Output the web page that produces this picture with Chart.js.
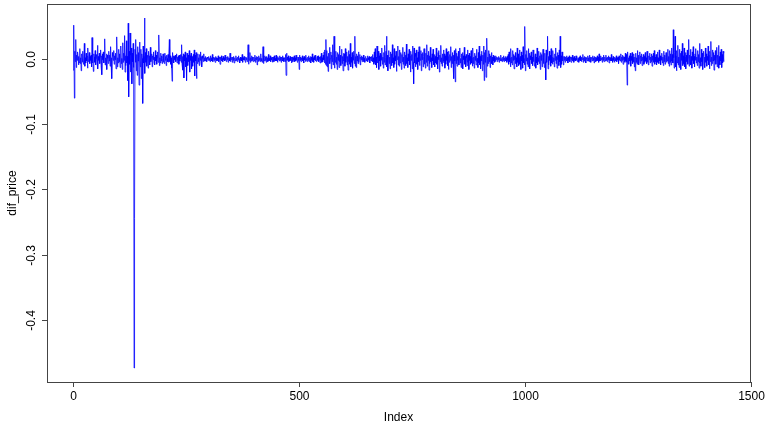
<!DOCTYPE html>
<html>
<head>
<meta charset="utf-8">
<script src="https://cdn.jsdelivr.net/npm/chart.js@4/dist/chart.umd.min.js"></script>
<style>
  html, body { margin: 0; padding: 0; background: #fff; }
  #wrap { width: 765px; height: 427px; position: relative; }
</style>
</head>
<body>
<div id="wrap"><canvas id="chartDif"></canvas></div>
<script>
// dif_price series (one value per index, starting at 1)
const difPrice = [
  -0.017, 0.018, 0.052, -0.06, 0.012, -0.004, 0.03, -0.013, 0.006, -0.002, 0.011, 0.004, -0.009, 0.003, -0.006, 0.016, -0.007, 0.002, -0.018, 0.008,
  0.003, -0.005, 0.012, -0.008, 0.001, 0.024, -0.011, 0.002, -0.006, 0.009, -0.003, 0.005, -0.014, 0.017, -0.004, 0.001, 0.01, -0.007, 0.004, -0.002,
  0.006, -0.012, 0.033, -0.006, 0.002, -0.019, 0.008, 0.003, -0.005, 0.013, -0.009, 0.001, 0.007, -0.004, 0.021, -0.015, 0.004, -0.002, 0.009, -0.007,
  0.003, 0.014, -0.01, 0.005, -0.024, 0.008, -0.001, 0.011, -0.006, 0.004, 0.031, -0.009, 0.002, -0.004, 0.008, -0.016, 0.006, 0.001, -0.007, 0.012,
  -0.003, 0.006, -0.011, 0.019, -0.005, 0.002, -0.03, 0.01, 0.004, -0.002, 0.013, -0.008, 0.005, -0.001, 0.009, -0.015, 0.007, 0.034, -0.012, 0.002,
  -0.006, 0.015, -0.004, 0.008, -0.013, 0.003, 0.02, -0.007, 0.001, -0.016, 0.025, -0.005, 0.009, -0.002, 0.036, -0.02, 0.005, -0.01, 0.028, -0.006,
  0.004, -0.033, 0.055, -0.058, 0.012, -0.008, 0.04, -0.02, 0.006, 0.017, -0.038, 0.009, -0.004, 0.024, -0.013, -0.474, -0.245, 0.015, -0.005, 0.03,
  -0.018, 0.007, -0.025, 0.019, -0.003, 0.01, -0.04, 0.026, 0.005, -0.012, 0.015, -0.03, 0.008, 0.001, -0.068, 0.02, -0.006, 0.004, 0.063, -0.022,
  0.01, -0.005, 0.016, -0.011, 0.003, 0.006, -0.014, 0.012, -0.002, 0.005, -0.009, 0.018, -0.004, 0.002, 0.008, -0.012, 0.005, -0.001, 0.011, -0.006,
  0.003, -0.009, 0.013, -0.003, 0.006, -0.008, 0.002, 0.011, -0.005, 0.004, 0.037, -0.01, 0.002, -0.006, 0.009, -0.003, 0.005, -0.007, 0.001, 0.008,
  -0.005, 0.003, -0.007, 0.009, -0.002, 0.004, -0.01, 0.006, 0.001, -0.004, 0.007, -0.005, 0.002, 0.03, -0.004, 0.005, -0.008, 0.002, -0.014, -0.034,
  0.01, -0.003, 0.005, -0.006, 0.004, -0.001, 0.006, -0.004, 0.002, 0.008, -0.006, 0.003, -0.002, 0.005, -0.008, 0.006, -0.003, 0.001, 0.007, -0.005,
  0.022, -0.008, 0.004, -0.017, 0.008, -0.029, 0.006, -0.003, 0.011, -0.012, 0.002, -0.033, 0.009, 0.002, -0.01, 0.006, -0.004, 0.013, -0.02, 0.005,
  -0.002, 0.009, -0.015, 0.004, 0.001, -0.011, 0.007, -0.005, 0.014, -0.026, 0.006, -0.003, 0.01, -0.03, 0.005, -0.007, 0.008, -0.004, 0.002, -0.01,
  0.007, -0.002, 0.011, -0.006, 0.004, -0.012, 0.005, 0.001, -0.004, 0.008, -0.003, 0.002, -0.003, 0.004, -0.001, 0.002, -0.004, 0.003, 0.001, -0.002,
  0.004, -0.002, 0.001, -0.004, 0.005, -0.001, 0.002, -0.003, 0.007, -0.004, 0.001, 0.003, -0.002, 0.002, -0.005, 0.004, -0.001, 0.002, -0.003, 0.001,
  -0.002, 0.005, -0.004, 0.001, 0.003, -0.008, 0.003, -0.001, 0.005, -0.003, 0.001, -0.004, 0.004, -0.001, 0.002, -0.003, 0.006, -0.002, 0.001, -0.004,
  0.003, -0.001, 0.004, -0.005, 0.002, 0.001, -0.003, 0.009, -0.004, 0.002, -0.001, 0.003, -0.005, 0.003, -0.002, 0.004, -0.006, 0.002, 0.001, -0.003,
  0.005, -0.002, 0.001, -0.004, 0.003, -0.001, 0.005, -0.003, 0.001, -0.006, 0.003, -0.002, 0.002, -0.003, 0.007, -0.005, 0.002, -0.001, 0.004, -0.002,
  0.003, -0.005, 0.003, -0.001, 0.002, -0.004, 0.005, 0.022, -0.008, 0.004, -0.002, 0.01, -0.005, 0.002, -0.003, 0.005, -0.002, 0.003, -0.004, 0.001,
  0.003, -0.003, 0.006, -0.005, 0.002, -0.001, 0.004, -0.009, 0.003, 0.001, -0.004, 0.005, -0.002, 0.002, -0.004, 0.008, -0.003, 0.001, -0.005, 0.003,
  0.019, -0.007, 0.002, -0.003, 0.005, -0.002, 0.003, -0.005, 0.004, -0.001, 0.002, -0.004, 0.007, -0.003, 0.001, -0.002, 0.005, -0.004, 0.002, -0.001,
  0.003, -0.005, 0.002, 0.003, -0.004, 0.005, -0.002, 0.001, -0.003, 0.006, -0.003, 0.002, -0.005, 0.004, -0.001, 0.002, -0.003, 0.005, -0.002, 0.003,
  -0.005, 0.003, -0.001, 0.005, -0.003, 0.002, -0.004, 0.002, 0.001, -0.004, 0.007, -0.025, 0.009, -0.002, 0.003, -0.002, 0.005, -0.004, 0.001, -0.003,
  0.004, -0.002, 0.003, -0.006, 0.002, 0.003, -0.004, 0.002, -0.001, 0.005, -0.004, 0.002, -0.003, 0.006, -0.002, 0.001, -0.005, 0.003, -0.002, 0.003,
  -0.016, 0.006, -0.002, 0.003, -0.004, 0.002, -0.001, 0.005, -0.003, 0.002, -0.006, 0.004, -0.001, 0.003, -0.004, 0.006, -0.002, 0.001, -0.004, 0.003,
  -0.002, 0.005, -0.004, 0.002, -0.001, 0.004, -0.006, 0.003, -0.002, 0.008, -0.004, 0.002, -0.005, 0.004, -0.001, 0.006, -0.003, 0.002, -0.004, 0.002,
  0.004, -0.002, 0.005, -0.004, 0.001, 0.003, -0.006, 0.004, -0.002, 0.009, -0.005, 0.002, -0.004, 0.006, -0.001, 0.011, -0.006, 0.014, -0.008, 0.03,
  -0.01, 0.013, -0.012, 0.004, -0.019, 0.009, -0.003, 0.018, -0.007, 0.001, 0.011, -0.015, 0.006, -0.004, 0.022, -0.009, 0.003, 0.035, -0.014, 0.007,
  -0.005, 0.012, -0.008, 0.003, -0.016, 0.01, -0.002, 0.007, -0.013, 0.02, -0.004, 0.006, -0.01, 0.002, 0.015, -0.007, 0.004, -0.018, 0.009, -0.003,
  0.008, -0.011, 0.016, -0.005, 0.002, 0.011, -0.009, 0.004, -0.017, 0.013, -0.004, 0.007, -0.008, 0.024, -0.012, 0.003, -0.005, 0.01, -0.014, 0.006,
  -0.002, 0.012, -0.007, 0.035, -0.011, 0.004, -0.013, 0.008, -0.003, 0.005, -0.007, 0.011, -0.005, 0.002, 0.007, -0.009, 0.003, -0.001, 0.005, -0.004,
  0.003, -0.002, 0.006, -0.004, 0.001, -0.005, 0.003, 0.004, -0.003, 0.001, -0.003, 0.005, -0.004, 0.002, -0.001, 0.004, -0.006, 0.003, 0.002, -0.003,
  0.004, -0.002, 0.007, -0.004, 0.002, -0.008, 0.011, -0.005, 0.016, -0.009, 0.003, -0.013, 0.02, -0.006, 0.002, 0.012, -0.016, 0.005, -0.003, 0.009,
  -0.011, 0.007, -0.002, 0.017, -0.008, 0.003, -0.014, 0.01, -0.005, 0.021, -0.009, 0.002, 0.012, 0.035, -0.012, 0.006, -0.018, 0.004, 0.013, -0.007,
  0.003, -0.015, 0.011, -0.004, 0.008, -0.01, 0.022, -0.006, 0.002, -0.013, 0.016, -0.008, 0.005, -0.003, 0.012, -0.019, 0.006, -0.001, 0.02, -0.009,
  0.004, -0.011, 0.014, -0.006, 0.001, 0.01, -0.016, 0.007, -0.004, 0.018, -0.008, 0.003, -0.014, 0.011, -0.005, 0.006, -0.01, 0.023, -0.007, 0.002,
  -0.013, 0.008, -0.003, 0.015, -0.009, 0.005, -0.02, 0.012, -0.002, 0.007, -0.015, 0.02, -0.005, -0.038, 0.017, -0.006, 0.009, -0.012, 0.004, 0.014,
  -0.008, 0.002, -0.016, 0.011, -0.004, 0.019, -0.01, 0.006, -0.002, 0.013, -0.018, 0.008, -0.001, 0.01, -0.012, 0.004, 0.016, -0.008, 0.003, -0.014,
  0.009, -0.005, 0.022, -0.011, 0.006, -0.002, 0.012, -0.017, 0.005, -0.007, 0.018, -0.004, 0.002, -0.013, 0.008, -0.003, 0.015, -0.009, 0.001, 0.007,
  -0.012, 0.004, -0.006, 0.017, -0.008, 0.003, -0.015, 0.01, -0.001, 0.013, -0.02, 0.006, -0.004, 0.021, -0.007, 0.002, -0.011, 0.008, -0.005, 0.014,
  -0.003, 0.008, -0.014, 0.005, -0.008, 0.016, -0.002, 0.011, -0.01, 0.004, -0.016, 0.012, -0.005, 0.007, -0.002, 0.019, -0.013, 0.004, -0.007, 0.01,
  -0.004, 0.006, -0.03, 0.013, -0.003, -0.035, 0.016, -0.007, 0.009, -0.011, 0.004, -0.002, 0.012, -0.009, 0.003, 0.017, -0.006, 0.001, -0.013, 0.008,
  -0.004, 0.01, -0.015, 0.005, -0.001, 0.018, -0.008, 0.004, -0.012, 0.007, 0.002, -0.01, 0.014, -0.005, 0.006, -0.016, 0.009, -0.002, 0.004, -0.008,
  0.013, -0.006, 0.002, -0.011, 0.017, -0.007, 0.003, -0.014, 0.009, -0.002, 0.005, -0.009, 0.015, -0.004, 0.001, -0.013, 0.01, -0.006, 0.02, -0.009,
  0.004, -0.015, 0.007, -0.003, 0.012, -0.018, 0.006, -0.008, 0.02, -0.033, 0.01, -0.005, 0.014, -0.028, 0.006, 0.032, -0.011, 0.003, -0.007, 0.013,
  -0.004, 0.008, -0.013, 0.005, -0.002, 0.01, -0.007, 0.003, -0.009, 0.006, -0.003, 0.004, -0.005, 0.002, -0.004, 0.005, -0.001, 0.003, -0.004, 0.002,
  -0.001, 0.004, -0.005, 0.002, 0.001, -0.003, 0.006, -0.003, 0.001, -0.004, 0.003, -0.002, 0.005, -0.004, 0.002, -0.001, 0.004, -0.003, 0.002, -0.005,
  0.004, -0.002, 0.007, -0.008, 0.011, -0.004, 0.002, -0.012, 0.016, -0.006, 0.003, -0.009, 0.013, -0.002, 0.007, -0.015, 0.005, -0.001, 0.01, -0.007,
  0.002, -0.012, 0.017, -0.005, 0.008, -0.01, 0.002, 0.014, -0.008, 0.004, -0.016, 0.011, -0.003, 0.006, -0.014, 0.019, -0.006, 0.001, -0.009, 0.05,
  -0.018, 0.007, -0.003, 0.013, -0.008, 0.002, -0.012, 0.016, -0.004, 0.009, -0.015, 0.005, -0.001, 0.011, -0.007, 0.003, -0.01, 0.014, -0.004, 0.006,
  -0.011, 0.004, 0.008, -0.014, 0.003, -0.006, 0.017, -0.009, 0.002, -0.004, 0.012, -0.007, 0.005, -0.016, 0.01, -0.002, 0.007, -0.012, 0.003, 0.015,
  -0.007, 0.002, -0.013, 0.009, -0.004, -0.032, 0.014, -0.005, 0.007, 0.035, -0.015, 0.004, -0.009, 0.012, -0.002, 0.006, -0.011, 0.016, -0.006, 0.003,
  -0.008, 0.013, -0.004, 0.002, -0.012, 0.008, -0.002, 0.017, -0.007, 0.004, -0.014, 0.01, -0.001, 0.006, -0.01, 0.014, -0.004, 0.035, -0.013, 0.005,
  -0.008, 0.011, -0.003, 0.006, -0.009, 0.004, -0.002, 0.004, -0.005, 0.003, -0.001, 0.005, -0.003, 0.002, -0.006, 0.003, -0.002, 0.005, -0.004, 0.002,
  0.003, -0.005, 0.003, -0.001, 0.006, -0.003, 0.002, -0.005, 0.004, -0.002, 0.001, -0.003, 0.005, -0.002, 0.003, -0.004, 0.002, 0.001, -0.005, 0.003,
  -0.002, 0.005, -0.003, 0.002, -0.004, 0.003, -0.001, 0.007, -0.005, 0.002, -0.003, 0.004, -0.002, 0.003, -0.006, 0.002, 0.001, -0.003, 0.005, -0.003,
  0.002, -0.004, 0.006, -0.002, 0.003, -0.005, 0.001, 0.003, -0.003, 0.005, -0.002, 0.002, -0.006, 0.004, -0.001, 0.003, -0.004, 0.002, -0.003, 0.005,
  -0.002, 0.003, -0.005, 0.008, -0.003, 0.002, -0.003, 0.005, -0.001, 0.002, -0.005, 0.003, -0.002, 0.006, -0.004, 0.001, 0.003, -0.003, 0.006, -0.002,
  0.002, -0.004, 0.003, -0.001, 0.005, -0.006, 0.003, -0.002, 0.002, -0.003, 0.007, -0.003, 0.001, -0.005, 0.004, -0.002, 0.002, -0.005, 0.003, 0.001,
  -0.003, 0.005, -0.004, 0.002, -0.001, 0.003, -0.007, 0.005, -0.002, 0.002, -0.003, 0.008, -0.005, 0.003, -0.002, 0.006, -0.008, 0.004, -0.001, 0.003,
  -0.005, 0.009, -0.003, 0.007, -0.005, -0.04, 0.011, -0.006, 0.002, -0.008, 0.005, -0.003, 0.009, -0.011, 0.004, -0.002, 0.01, -0.007, 0.003, -0.005,
  0.008, -0.012, 0.003, -0.018, 0.009, -0.005, 0.002, -0.008, 0.013, -0.004, 0.006, -0.009, 0.002, 0.011, -0.007, 0.005, -0.003, 0.008, -0.01, 0.003,
  -0.002, 0.007, -0.008, 0.004, -0.005, 0.01, -0.003, 0.002, -0.007, 0.012, -0.005, 0.003, -0.009, 0.005, -0.001, 0.009, -0.006, 0.003, -0.004, 0.008,
  -0.011, 0.005, -0.002, 0.009, -0.005, 0.013, -0.008, 0.003, -0.004, 0.007, -0.009, 0.003, 0.011, -0.005, 0.002, -0.007, 0.014, -0.003, 0.005, -0.009,
  0.004, -0.002, 0.009, -0.006, 0.003, -0.01, 0.012, -0.004, 0.006, -0.008, 0.002, 0.01, -0.005, 0.008, -0.003, 0.015, -0.007, 0.004, -0.011, 0.013,
  -0.005, 0.008, -0.009, 0.017, -0.003, 0.007, -0.006, 0.045, 0.002, -0.014, 0.01, 0.035, -0.012, 0.005, -0.018, 0.013, -0.006, 0.021, -0.009, 0.003,
  -0.013, 0.015, -0.005, 0.009, -0.016, 0.012, -0.002, 0.024, -0.01, 0.005, -0.007, 0.017, -0.012, 0.003, 0.01, -0.015, 0.006, -0.004, 0.014, -0.008,
  0.002, 0.03, -0.011, 0.006, -0.004, 0.015, -0.009, 0.004, -0.014, 0.011, -0.002, 0.019, -0.007, 0.004, -0.012, 0.008, -0.002, 0.016, -0.006, 0.003,
  -0.01, 0.013, -0.004, 0.007, -0.014, 0.024, -0.006, 0.002, -0.011, 0.015, -0.004, 0.009, -0.016, 0.005, 0.012, -0.008, 0.003, -0.013, 0.017, -0.005,
  0.008, -0.011, 0.004, -0.002, 0.02, -0.009, 0.006, -0.015, 0.012, -0.004, 0.027, -0.01, 0.003, -0.007, 0.014, -0.003, 0.01, -0.017, 0.006, -0.002,
  0.013, -0.008, 0.003, 0.018, -0.012, 0.006, -0.005, 0.021, -0.014, 0.004, -0.009, 0.011, -0.003, 0.015, -0.013, 0.007, -0.006, 0.012, -0.004, 0.009
];

const xTicks = [0, 500, 1000, 1500];
const yTicks = [-0.4, -0.3, -0.2, -0.1, 0.0];
const yTickLabels = ["-0.4", "-0.3", "-0.2", "-0.1", "0.0"];
const xTitle = "Index";
const yTitle = "dif_price";

// R style axis limits: data range widened by 4% each side
const n = difPrice.length;
const yMin = Math.min(...difPrice), yMax = Math.max(...difPrice);
const xPad = (n - 1) * 0.04, yPad = (yMax - yMin) * 0.04;

const FONT = '12px "Liberation Sans", Arial, sans-serif';
const AXIS_COL = "#444";

// draws the box, ticks and labels like base R plot()
const rAxes = {
  id: "rAxes",
  afterDraw(chart) {
    const ctx = chart.ctx;
    const a = chart.chartArea;
    const xs = chart.scales.x, ys = chart.scales.y;
    ctx.save();
    ctx.strokeStyle = AXIS_COL;
    ctx.lineWidth = 1;
    ctx.strokeRect(Math.round(a.left) + 0.5, Math.round(a.top) + 0.5,
      Math.round(a.right - a.left), Math.round(a.bottom - a.top));

    ctx.fillStyle = "#000";
    ctx.font = FONT;

    // x axis
    ctx.textAlign = "center";
    ctx.textBaseline = "top";
    xTicks.forEach(v => {
      const px = Math.round(xs.getPixelForValue(v)) + 0.5;
      ctx.beginPath();
      ctx.moveTo(px, a.bottom);
      ctx.lineTo(px, a.bottom + 5);
      ctx.stroke();
      ctx.fillText(String(v), px, a.bottom + 9);
    });

    // y axis, labels turned like las=0
    ctx.textBaseline = "alphabetic";
    yTicks.forEach((v, i) => {
      const py = Math.round(ys.getPixelForValue(v)) + 0.5;
      ctx.beginPath();
      ctx.moveTo(a.left - 5, py);
      ctx.lineTo(a.left, py);
      ctx.stroke();
      ctx.save();
      ctx.translate(a.left - 12.5, py);
      ctx.rotate(-Math.PI / 2);
      ctx.fillText(yTickLabels[i], 0, 0);
      ctx.restore();
    });

    // titles
    ctx.fillText(xTitle, (a.left + a.right) / 2, a.bottom + 39);
    ctx.save();
    ctx.translate(16, (a.top + a.bottom) / 2);
    ctx.rotate(-Math.PI / 2);
    ctx.fillText(yTitle, 0, 0);
    ctx.restore();
    ctx.restore();
  }
};

new Chart(document.getElementById("chartDif"), {
  type: "line",
  data: {
    datasets: [{
      label: yTitle,
      data: difPrice.map((v, i) => ({ x: i + 1, y: v })),
      borderColor: "#0000ff",
      borderWidth: 0.8,
      pointRadius: 0,
      tension: 0,
      fill: false
    }]
  },
  options: {
    responsive: true,
    maintainAspectRatio: false,
    animation: false,
    layout: { padding: { left: 47, top: 4, right: 15, bottom: 45 } },
    plugins: { legend: { display: false }, tooltip: { enabled: false } },
    scales: {
      x: { type: "linear", display: false, min: 1 - xPad, max: n + xPad },
      y: { type: "linear", display: false, min: yMin - yPad, max: yMax + yPad }
    }
  },
  plugins: [rAxes]
});
</script>
</body>
</html>
